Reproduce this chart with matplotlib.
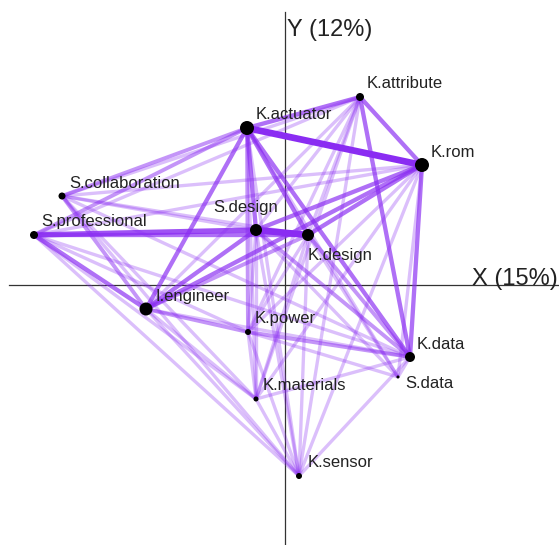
import matplotlib
matplotlib.use("Agg")
import matplotlib.pyplot as plt
import numpy as np

plt.rcParams['font.family'] = ['Liberation Sans', 'DejaVu Sans']

# ---- data ----
nodes = ["K.actuator", "K.attribute", "K.rom", "S.collaboration", "S.professional",
         "S.design", "K.design", "I.engineer", "K.power", "K.materials",
         "K.data", "S.data", "K.sensor"]
node_x = [-0.38, 0.75, 1.37, -2.23, -2.51, -0.29, 0.23, -1.39, -0.37, -0.29, 1.25, 1.13, 0.14]
node_y = [1.57, 1.88, 1.20, 0.89, 0.50, 0.55, 0.50, -0.24, -0.47, -1.14, -0.72, -0.92, -1.91]
node_size = [14, 8, 14, 7, 8, 12, 12, 13, 6, 5, 10, 3, 6]  # relative degree

edge_src = ["K.actuator", "S.design", "S.professional", "S.professional", "K.actuator",
            "K.actuator", "K.actuator", "K.actuator", "K.actuator", "K.attribute",
            "K.attribute", "K.rom", "I.engineer", "I.engineer", "I.engineer",
            "I.engineer", "I.engineer", "K.rom", "K.rom", "K.design",
            "S.design", "K.power", "I.engineer", "K.actuator", "K.actuator",
            "K.actuator",
            "S.collaboration", "S.collaboration", "S.collaboration", "S.collaboration",
            "S.collaboration", "S.collaboration", "S.professional", "S.professional",
            "S.professional", "S.professional", "S.professional", "I.engineer",
            "I.engineer", "I.engineer", "I.engineer", "S.design", "S.design",
            "S.design", "S.design", "K.design", "K.design", "K.design", "K.design",
            "K.rom", "K.rom", "K.rom", "K.rom", "K.attribute", "K.attribute",
            "K.attribute", "K.actuator", "K.actuator", "K.power", "K.power",
            "K.materials", "K.materials", "K.data", "K.design", "S.design",
            "K.actuator", "K.power", "K.data", "S.collaboration", "S.professional"]
edge_dst = ["K.rom", "K.design", "S.design", "K.design", "I.engineer",
            "K.design", "S.design", "K.data", "K.attribute", "K.rom",
            "K.data", "K.data", "S.professional", "S.collaboration", "K.rom",
            "S.design", "K.design", "S.design", "K.design", "K.data",
            "K.data", "K.data", "K.power", "K.power", "S.professional",
            "S.collaboration",
            "S.design", "K.design", "K.rom", "K.data",
            "K.sensor", "K.materials", "K.rom", "K.power",
            "K.materials", "K.sensor", "K.data", "K.materials",
            "K.sensor", "K.data", "K.attribute", "K.power", "K.materials",
            "K.sensor", "K.attribute", "K.attribute", "K.power", "K.materials", "K.sensor",
            "K.power", "K.materials", "K.sensor", "S.data", "K.sensor", "K.power",
            "K.materials", "K.materials", "K.sensor", "K.materials", "K.sensor",
            "K.sensor", "K.data", "S.data", "S.data", "S.data",
            "S.data", "S.data", "K.sensor", "K.attribute", "K.attribute"]
edge_w = [5, 5, 4, 3, 3,
          3, 3, 3, 3, 3,
          3, 3, 3, 2, 3,
          3, 2, 3, 3, 2,
          2, 2, 2, 2, 2,
          2,
          1, 1, 1, 1,
          1, 1, 1, 1,
          1, 1, 1, 1,
          1, 1, 1, 1, 1,
          1, 1, 1, 1, 1, 1,
          1, 1, 1, 1, 1, 1,
          1, 1, 1, 1, 1,
          1, 1, 1, 1, 1,
          1, 1, 1, 1, 1]

axis_labels = ["X (15%)", "Y (12%)"]

# ---- styles ----
edge_color = "#8a2cf2"
alpha_by_w = {1: 0.30, 2: 0.50, 3: 0.68, 4: 0.82, 5: 1.0}
lw_by_w = {1: 2.4, 2: 2.8, 3: 3.1, 4: 3.9, 5: 4.8}
label_off = {  # (dx, dy) in points, ha
    "K.actuator": (6, 10, 'left'), "K.attribute": (5, 9.5, 'left'),
    "K.rom": (6, 9, 'left'), "S.collaboration": (5, 9, 'left'),
    "S.professional": (5, 10, 'left'), "S.design": (-7.5, 16, 'center'),
    "K.design": (0, -14.5, 'left'), "I.engineer": (6.5, 9, 'left'),
    "K.power": (5, 10, 'left'), "K.materials": (5, 9.5, 'left'),
    "K.data": (5, 9, 'left'), "S.data": (5, -5, 'left'),
    "K.sensor": (6, 9.5, 'left'),
}

fig = plt.figure(figsize=(5.59, 5.45), dpi=100)
ax = fig.add_axes([0, 0, 1, 1])
ax.set_xlim(-2.85, 2.74)
ax.set_ylim(-2.60, 2.85)
ax.axis('off')

# axes lines
ax.plot([-2.76, 2.74], [0, 0], color="#333333", lw=0.9, zorder=1)
ax.plot([0, 0], [-2.60, 2.73], color="#333333", lw=0.9, zorder=1)
ax.text(1.87, 0.065, axis_labels[0], fontsize=17, ha='left', va='center', color="#222222")
ax.text(0.02, 2.55, axis_labels[1], fontsize=17, ha='left', va='center', color="#222222")

idx = {n: i for i, n in enumerate(nodes)}
order = np.argsort(edge_w, kind='stable')
for k in order:
    a, b, w = idx[edge_src[k]], idx[edge_dst[k]], edge_w[k]
    ax.plot([node_x[a], node_x[b]], [node_y[a], node_y[b]], color=edge_color,
            alpha=alpha_by_w[w], lw=lw_by_w[w], solid_capstyle='butt', zorder=2 + w * 0.1)

sizes = [(d * 0.72) ** 2 for d in node_size]
ax.scatter(node_x, node_y, s=sizes, color='black', zorder=5, linewidths=0)

for n, x, y in zip(nodes, node_x, node_y):
    dx, dy, ha = label_off[n]
    ax.annotate(n, (x, y), xytext=(dx, dy), textcoords='offset points',
                fontsize=12, ha=ha, va='center', color="#222222", zorder=6)

fig.savefig("out.png", dpi=100)
